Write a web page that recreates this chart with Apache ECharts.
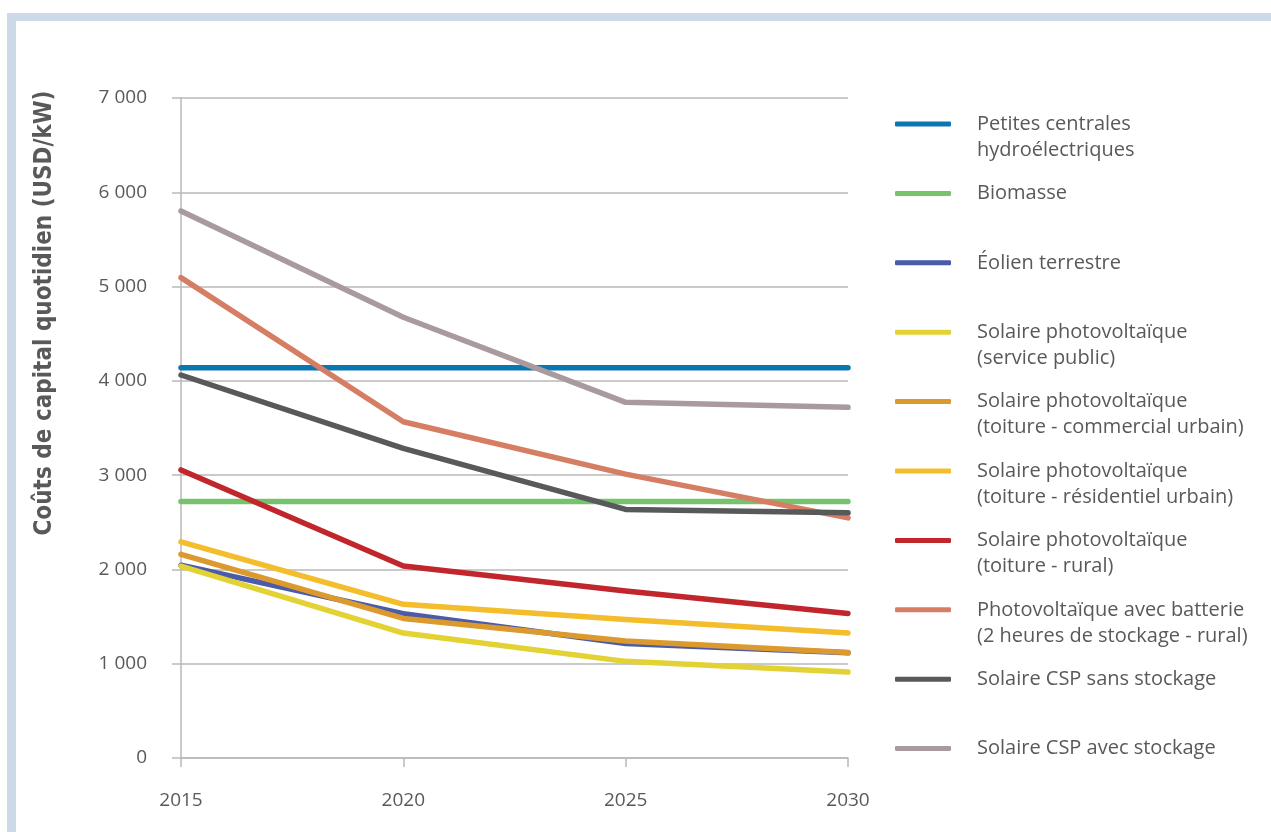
<!DOCTYPE html>
<html>
<head>
<meta charset="utf-8">
<script src="https://cdn.jsdelivr.net/npm/echarts@6/dist/echarts.min.js"></script>
<style>
html,body{margin:0;padding:0;background:#fff;}
#c{width:1271px;height:832px;}
</style>
</head>
<body>
<div id="c"></div>
<script>
var years = [2015, 2020, 2025, 2030];
var yTicks = [0, 1000, 2000, 3000, 4000, 5000, 6000, 7000];

var hydro       = [4140, 4140, 4140, 4140];
var biomass     = [2720, 2720, 2720, 2720];
var wind        = [2045, 1530, 1215, 1115];
var pvUtility   = [2035, 1325, 1025, 912];
var pvComm      = [2160, 1480, 1240, 1118];
var pvResid     = [2292, 1630, 1468, 1326];
var pvRural     = [3055, 2037, 1772, 1532];
var pvBattery   = [5095, 3566, 3011, 2547];
var cspNoStore  = [4062, 3283, 2636, 2600];
var cspStore    = [5802, 4675, 3772, 3719];

var seriesNames = [
  "Petites centrales hydroélectriques",
  "Biomasse",
  "Éolien terrestre",
  "Solaire photovoltaïque (service public)",
  "Solaire photovoltaïque (toiture - commercial urbain)",
  "Solaire photovoltaïque (toiture - résidentiel urbain)",
  "Solaire photovoltaïque (toiture - rural)",
  "Photovoltaïque avec batterie (2 heures de stockage - rural)",
  "Solaire CSP sans stockage",
  "Solaire CSP avec stockage"
];
var legendLines = [
  ["Petites centrales", "hydroélectriques"],
  ["Biomasse"],
  ["Éolien terrestre"],
  ["Solaire photovoltaïque", "(service public)"],
  ["Solaire photovoltaïque", "(toiture - commercial urbain)"],
  ["Solaire photovoltaïque", "(toiture - résidentiel urbain)"],
  ["Solaire photovoltaïque", "(toiture - rural)"],
  ["Photovoltaïque avec batterie", "(2 heures de stockage - rural)"],
  ["Solaire CSP sans stockage"],
  ["Solaire CSP avec stockage"]
];
var yTitle = "Coûts de capital quotidien (USD/kW)";
var seriesValues = [hydro, biomass, wind, pvUtility, pvComm, pvResid, pvRural, pvBattery, cspNoStore, cspStore];
var colors = ["#0b77b2", "#76c26d", "#4a5ba8", "#e3d234", "#dc9a2e", "#f3bd2c", "#c1262d", "#d67e63", "#58595b", "#a99a9e"];

var textColor = "#58595b";
var gridColor = "#b9b9b9";

var chart = echarts.init(document.getElementById('c'), null, {renderer: 'canvas'});

var series = seriesNames.map(function (n, i) {
  return {
    name: n,
    type: 'line',
    data: years.map(function (y, k) { return [y, seriesValues[i][k]]; }),
    showSymbol: false,
    symbol: 'none',
    smooth: false,
    silent: true,
    z: 2 + i,
    lineStyle: {width: 5.5, color: colors[i], cap: 'round', join: 'round'},
    itemStyle: {color: colors[i]}
  };
});

var option = {
  animation: false,
  color: colors,
  grid: {left: 181, right: 423, top: 98, bottom: 74, containLabel: false},
  xAxis: {
    type: 'value',
    min: 2015, max: 2030, interval: 5,
    axisLine: {show: true, lineStyle: {color: gridColor, width: 1.5}},
    axisTick: {show: true, length: 9, lineStyle: {color: gridColor, width: 1.5}},
    splitLine: {show: false},
    axisLabel: {color: textColor, fontSize: 19, fontFamily: 'Open Sans', margin: 33,
      formatter: function (v) { return String(v); }}
  },
  yAxis: {
    type: 'value',
    min: 0, max: 7000, interval: 1000,
    axisLine: {show: true, lineStyle: {color: gridColor, width: 1.5}},
    axisTick: {show: true, length: 9, lineStyle: {color: gridColor, width: 1.5}},
    splitLine: {show: true, lineStyle: {color: gridColor, width: 1.5}},
    axisLabel: {color: textColor, fontSize: 19, fontFamily: 'Open Sans', margin: 34,
      formatter: function (v) {
        var s = String(Math.round(v));
        return s.length > 3 ? s.slice(0, s.length - 3) + ' ' + s.slice(-3) : s;
      }}
  },
  legend: {
    orient: 'vertical',
    left: 895,
    top: 85,
    padding: 0,
    itemGap: -8.6,
    itemWidth: 56,
    itemHeight: 5,
    icon: 'roundRect',
    selectedMode: false,
    data: seriesNames,
    textStyle: {color: textColor, fontSize: 20, fontFamily: 'Open Sans', lineHeight: 26, padding: [0, 0, 0, 21]},
    formatter: function (name) {
      var idx = seriesNames.indexOf(name);
      var l = legendLines[idx];
      if (l.length === 2) return ' \n' + l[0] + '\n' + l[1];
      return ' \n' + l[0] + '\n ';
    }
  },
  graphic: [
    {type: 'rect', left: 7, top: 13, shape: {width: 1264, height: 8}, style: {fill: '#ccd9e8'}, silent: true},
    {type: 'rect', left: 7, top: 13, shape: {width: 9, height: 819}, style: {fill: '#ccd9e8'}, silent: true},
    {type: 'text', x: 45, y: 313, rotation: Math.PI / 2, silent: true,
      style: {text: yTitle, fill: textColor, font: "bold 24px 'Liberation Sans Narrow', 'DejaVu Sans Condensed', 'Open Sans'",
        align: 'center', verticalAlign: 'middle'}}
  ],
  series: series
};
chart.setOption(option);
</script>
</body>
</html>
